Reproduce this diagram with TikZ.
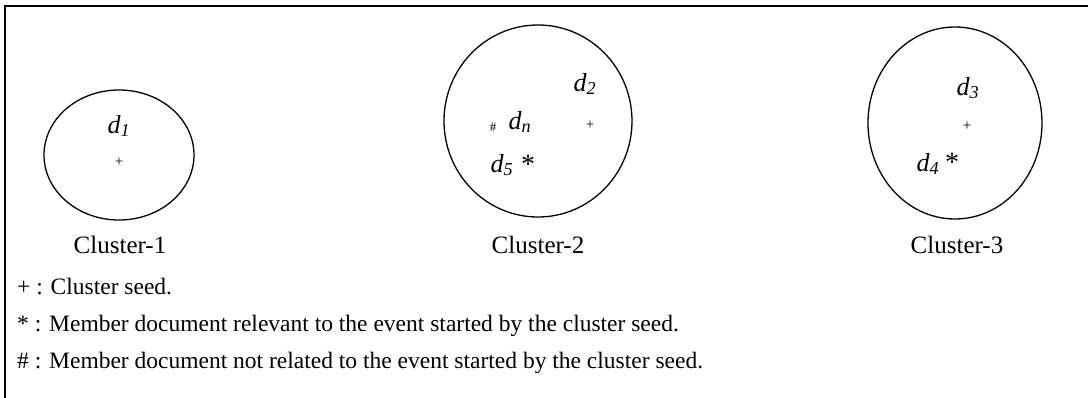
\documentclass[tikz,border=0pt]{standalone}
\usepackage{fontspec}
\setmainfont{Liberation Serif}
\begin{document}
\begin{tikzpicture}[x=1pt,y=-1pt,
  cluster/.style={draw,line width=1.3pt},
  clabel/.style={font=\fontsize{25}{27}\selectfont,inner sep=0pt},
  doc/.style={font=\fontsize{26}{28}\selectfont\itshape,inner sep=0pt},
  seed/.style={font=\fontsize{15}{16}\selectfont,inner sep=0pt},
  hashmark/.style={font=\fontsize{13}{14}\selectfont,inner sep=0pt},
  starmark/.style={font=\fontsize{28}{30}\selectfont,inner sep=0pt},
  legend/.style={font=\fontsize{23.5}{25}\selectfont,inner sep=0pt,anchor=base west}]
\useasboundingbox (0,0) rectangle (1088,398);
\coordinate (fb) at (5,398);
\coordinate (fc) at (5,6);
\coordinate (fr) at (1088,6);
\draw[line width=2pt] (fb) -- (fc) -- (fr);
% cluster 1
\draw[cluster] (119,155) ellipse [x radius=75, y radius=65];
\node[doc] (d1) at (119,126) {d\textsubscript{1}};
\node[seed] (s1) at (119,162) {+};
\node[clabel] (c1) at (120,245) {Cluster-1};
% cluster 2
\draw[cluster] (538,121) ellipse [x radius=94, y radius=96];
\node[doc] (d2) at (585,84) {d\textsubscript{2}};
\node[seed] (s2) at (590,125) {+};
\node[hashmark] (h2) at (493,127) {\#};
\node[doc] (dn) at (520,122) {d\textsubscript{n}};
\node[doc] (d5) at (502,165) {d\textsubscript{5}};
\node[starmark] (a5) at (528,164) {*};
\node[clabel] (c2) at (538,245) {Cluster-2};
% cluster 3
\draw[cluster] (955,123) ellipse [x radius=87, y radius=96];
\node[doc] (d3) at (968,88) {d\textsubscript{3}};
\node[seed] (s3) at (967,126) {+};
\node[doc] (d4) at (928,164) {d\textsubscript{4}};
\node[starmark] (a4) at (952,162) {*};
\node[clabel] (c3) at (957,245) {Cluster-3};
% legend
\node[legend] (l1) at (17,295) {+ : Cluster seed.};
\node[legend] (l2) at (17,332) {* : Member document relevant to the event started by the cluster seed.};
\node[legend] (l3) at (17,369) {\# : Member document not related to the event started by the cluster seed.};
\end{tikzpicture}
\end{document}
